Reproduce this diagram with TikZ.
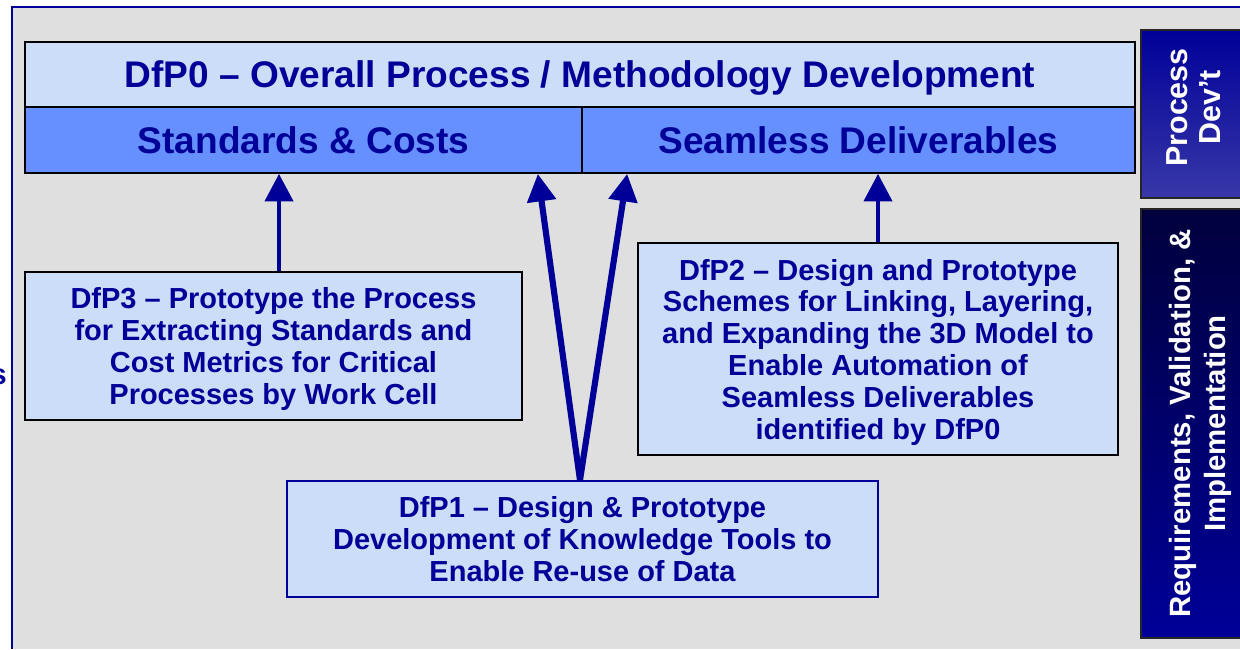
\documentclass[tikz,border=0pt]{standalone}
\usepackage{fontspec}
\setmainfont{Liberation Sans}
\usetikzlibrary{arrows.meta}
\definecolor{dfpnavy}{HTML}{000099}
\definecolor{dfplight}{HTML}{CCDDFA}
\definecolor{dfpmid}{HTML}{6690FF}
\definecolor{dfpgray}{HTML}{DFDFDF}
\definecolor{dfpdark}{HTML}{00003C}
\definecolor{dfpsoft}{HTML}{3838A8}

\begin{document}
\begin{tikzpicture}[x=0.02cm,y=-0.02cm,
	headbox/.style={draw=black,line width=1pt,inner sep=0pt,text depth=0pt,text=dfpnavy,font=\bfseries\fontsize{21.1}{25}\selectfont},
	taskbox/.style={draw=black,line width=1.1pt,fill=dfplight,inner sep=0pt,text depth=0pt,align=center,text=dfpnavy,font=\bfseries\fontsize{16.5}{18.1}\selectfont},
	sidebox/.style={draw=black!85,line width=0.8pt,inner sep=0pt,minimum width=2.22cm},
	sidetext/.style={rotate=90,text=white,align=center,inner sep=0pt},
	uparrow/.style={draw=dfpnavy,-{Triangle[width=0.56cm,length=0.55cm]}}]
		\useasboundingbox (0,0) rectangle (1240,649);
		\fill[dfpgray] (12,7) rectangle (1240,649);
		\draw[dfpnavy,line width=1.2pt] (1240,7) -- (12,7) -- (12,649);
		\node[anchor=base east,inner sep=0pt,text=dfpnavy,font=\bfseries\fontsize{16.5}{18}\selectfont] (cut) at (7,384) {s};
		\node[headbox,fill=dfplight,minimum width=22.2cm,minimum height=1.3cm] (dfp0) at (580,74.5) {DfP0 – Overall Process / Methodology Development};
		\node[headbox,fill=dfpmid,minimum width=11.14cm,minimum height=1.32cm] (stc) at (303.5,140) {Standards \& Costs};
		\node[headbox,fill=dfpmid,minimum width=11.06cm,minimum height=1.32cm] (sdl) at (858.5,140) {Seamless Deliverables};
		\node[sidebox,minimum height=3.36cm,top color=dfpnavy,bottom color=dfpsoft] (pdev) at (1196.5,114) {};
		\node[sidetext,font=\bfseries\fontsize{17.3}{18.7}\selectfont] at ([xshift=-0.05cm,yshift=0.13cm]pdev) {Process\\Dev’t};
		\node[sidebox,minimum height=8.58cm,top color=dfpdark,bottom color=dfpnavy] (rvi) at (1196.5,423.5) {};
		\node[sidetext,font=\bfseries\fontsize{16.7}{19.8}\selectfont] at ([xshift=0.08cm]rvi) {Requirements, Validation, \&\\Implementation};
		\node[taskbox,minimum width=9.94cm,minimum height=2.96cm] (dfp3) at (273.5,346) {DfP3 – Prototype the Process\\for Extracting Standards and\\Cost Metrics for Critical\\Processes by Work Cell};
		\node[taskbox,minimum width=9.6cm,minimum height=4.24cm] (dfp2) at (878,349) {DfP2 – Design and Prototype\\Schemes for Linking, Layering,\\and Expanding the 3D Model to\\Enable Automation of\\Seamless Deliverables\\identified by DfP0};
		\node[taskbox,draw=dfpnavy,minimum width=11.82cm,minimum height=2.32cm] (dfp1) at (582.5,539) {DfP1 – Design \& Prototype\\Development of Knowledge Tools to\\Enable Re-use of Data};
		\coordinate (apex) at ([xshift=-0.05cm]dfp1.north);
		\coordinate (tipl) at ([xshift=-0.9cm]stc.south east);
		\coordinate (tipr) at ([xshift=0.92cm]sdl.south west);
		\draw[uparrow,line width=2.4pt] ([xshift=0.11cm]dfp3.north) -- ([xshift=0.11cm]dfp3.north |- stc.south);
		\draw[uparrow,line width=2.4pt] (dfp2.north) -- (dfp2.north |- sdl.south);
		\draw[uparrow,line width=3.5pt] (apex) -- (tipl);
		\draw[uparrow,line width=3.5pt] (apex) -- (tipr);
		\end{tikzpicture}
\end{document}
